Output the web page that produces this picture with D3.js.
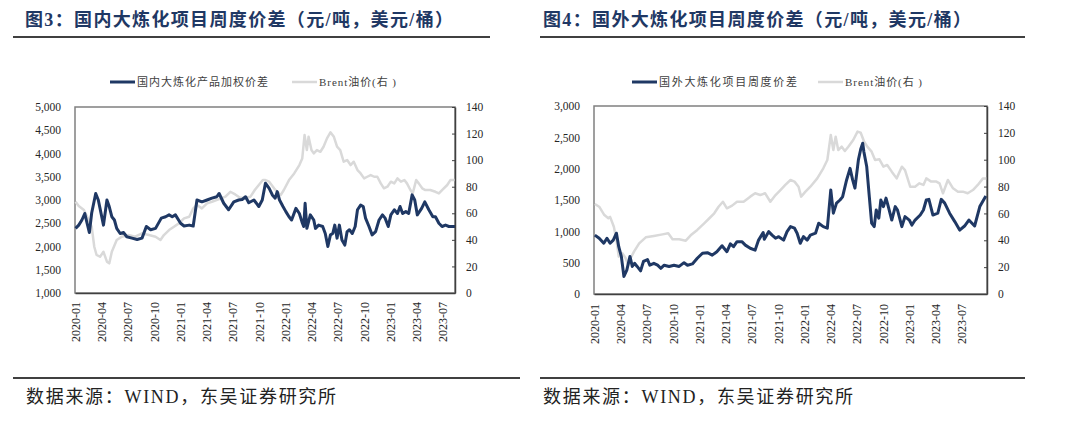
<!DOCTYPE html>
<html>
<head>
<meta charset="utf-8">
<script src="https://cdn.jsdelivr.net/npm/d3@7"></script>
<style>
  body { margin: 0; background: #fff; }
  svg { display: block; }
</style>
</head>
<body>
<svg id="chart" width="1080" height="435"></svg>
<script>
// ---- data ----
const xTickLabels = ["2020-01","2020-04","2020-07","2020-10","2021-01","2021-04","2021-07","2021-10",
  "2022-01","2022-04","2022-07","2022-10","2023-01","2023-04","2023-07"];
const brentTicks = [0, 20, 40, 60, 80, 100, 120, 140];
const domesticTicks = [1000, 1500, 2000, 2500, 3000, 3500, 4000, 4500, 5000];
const foreignTicks = [0, 500, 1000, 1500, 2000, 2500, 3000];

// fig 3: domestic weighted product spread (yuan/t)
const domSpreadDates = [
  "2020-01-03","2020-01-14","2020-01-25","2020-02-04","2020-02-12","2020-02-20","2020-02-28","2020-03-13","2020-03-22","2020-04-09",
  "2020-04-21","2020-04-29","2020-05-08","2020-05-17","2020-05-25","2020-06-06","2020-06-18","2020-06-29","2020-07-17","2020-08-04",
  "2020-08-21","2020-09-05","2020-09-20","2020-10-07","2020-10-27","2020-11-11","2020-11-23","2020-12-04","2020-12-15",
  "2021-01-02","2021-01-14","2021-02-01","2021-02-15","2021-02-28","2021-03-17","2021-04-04","2021-04-21","2021-05-08","2021-05-16",
  "2021-06-01","2021-06-18","2021-07-06","2021-07-23","2021-08-04","2021-08-16","2021-08-27","2021-09-14","2021-10-01","2021-10-13",
  "2021-10-24","2021-11-06","2021-11-17","2021-11-27","2021-12-04","2021-12-12","2021-12-24",
  "2022-01-03","2022-01-14","2022-01-23","2022-02-07","2022-02-19","2022-02-28","2022-03-06","2022-03-11","2022-03-17","2022-03-29",
  "2022-04-10","2022-04-16","2022-04-27","2022-05-11","2022-05-20","2022-05-29","2022-06-07","2022-06-15","2022-06-22","2022-06-30",
  "2022-07-08","2022-07-17","2022-07-27","2022-08-04","2022-08-12","2022-08-22","2022-09-01","2022-09-09","2022-09-20","2022-09-29",
  "2022-10-07","2022-10-19","2022-10-30","2022-11-11","2022-11-23","2022-12-05","2022-12-14","2022-12-25",
  "2023-01-03","2023-01-15","2023-01-26","2023-02-04","2023-02-13","2023-02-24","2023-03-06","2023-03-18","2023-03-27","2023-04-05",
  "2023-04-20","2023-05-01","2023-05-15","2023-05-29","2023-06-07","2023-06-19","2023-06-30","2023-07-12","2023-07-24","2023-08-14"];
const domSpreadValues = [
  2390,2460,2570,2710,2500,2300,2720,3140,3000,2460,
  3000,2860,2640,2570,2390,2280,2300,2210,2180,2150,
  2180,2430,2360,2390,2610,2640,2680,2640,2680,
  2500,2440,2460,2440,3000,2960,3000,3040,3070,3140,
  2930,2790,2960,3000,3010,3070,2940,3000,2860,3000,
  3360,3250,3110,3040,3180,3000,2860,
  2750,2640,2570,2820,2710,2530,2430,2930,2390,2680,
  2570,2390,2460,2430,2280,2000,2250,2280,2460,2180,
  2460,2140,2030,2320,2360,2280,2430,2790,2890,2860,
  2610,2430,2250,2320,2570,2680,2610,2430,
  2680,2790,2710,2860,2710,2750,2710,3110,3000,2680,
  2820,2960,2790,2640,2640,2500,2430,2460,2430,2430];

// fig 3: Brent ($/bbl, right axis)
const domBrentDates = [
  "2020-01-03","2020-01-14","2020-02-01","2020-02-18","2020-02-28","2020-03-08","2020-03-16","2020-03-28","2020-04-09","2020-04-21",
  "2020-04-29","2020-05-08","2020-05-25","2020-06-12","2020-07-05","2020-07-28","2020-08-21","2020-09-14","2020-10-07","2020-10-24",
  "2020-11-05","2020-11-23","2020-12-10","2020-12-27",
  "2021-01-14","2021-02-01","2021-02-15","2021-02-28","2021-03-17","2021-04-04","2021-04-21","2021-05-14","2021-06-07","2021-06-24",
  "2021-07-11","2021-07-28","2021-08-16","2021-09-02","2021-09-17","2021-10-01","2021-10-15","2021-10-24","2021-11-06","2021-11-23",
  "2021-12-04","2021-12-16","2021-12-27",
  "2022-01-14","2022-02-01","2022-02-19","2022-03-01","2022-03-09","2022-03-17","2022-03-23","2022-04-02","2022-04-10","2022-04-21",
  "2022-05-03","2022-05-14","2022-05-26","2022-06-07","2022-06-19","2022-06-30","2022-07-11","2022-07-23","2022-08-04","2022-08-16",
  "2022-08-27","2022-09-09","2022-09-20","2022-10-02","2022-10-13","2022-10-25","2022-11-06","2022-11-17","2022-11-29","2022-12-10",
  "2022-12-22",
  "2023-01-03","2023-01-15","2023-01-26","2023-02-07","2023-02-19","2023-02-28","2023-03-12","2023-03-20","2023-04-01","2023-04-10",
  "2023-04-22","2023-05-03","2023-05-20","2023-06-07","2023-06-19","2023-06-30","2023-07-18","2023-07-29","2023-08-14"];
const domBrentValues = [
  68.7,65.5,62.5,55,49.9,34.8,28.6,27.3,31,23.6,
  22.3,31,39.9,42.4,43.6,42.4,44.9,43.6,42.4,39.9,
  43.6,47.4,49.9,52.4,
  56.2,57.4,63.7,66.2,63.7,67.5,68.7,70.5,72.5,76.2,
  74.2,71.7,71.7,72.5,77.5,81.3,85,85,83.8,78.8,
  76.2,73.7,77.5,
  85,90,96.3,101.3,118.9,107.6,117.6,107.6,105.1,107.6,
  106.3,110.1,116.4,120.9,117.6,110.1,107.6,98.8,100.1,96.3,
  98.8,92.5,90,86.3,87.5,88.8,87.5,87.5,82.5,78.8,
  80,
  83.8,82.5,86.3,83.8,85,82.5,77.5,75,85,82.5,
  78.8,77.5,77.5,76.2,75,77.5,81.3,85,85];

// fig 4: foreign project weekly spread (yuan/t)
const forSpreadDates = [
  "2020-01-04","2020-01-19","2020-02-04","2020-02-15","2020-02-26","2020-03-08","2020-03-19","2020-03-27","2020-04-05","2020-04-14",
  "2020-04-24","2020-05-05","2020-05-13","2020-05-21","2020-05-30","2020-06-11","2020-06-21","2020-07-05","2020-07-13","2020-07-27",
  "2020-08-09","2020-08-20","2020-09-01","2020-09-18","2020-10-05","2020-10-23","2020-11-09","2020-11-21","2020-12-08","2020-12-25",
  "2021-01-12","2021-01-29","2021-02-15","2021-03-03","2021-03-21","2021-04-07","2021-04-19","2021-04-30","2021-05-12","2021-05-29",
  "2021-06-10","2021-06-27","2021-07-14","2021-07-26","2021-08-11","2021-08-15","2021-08-30","2021-09-11","2021-09-23","2021-10-04",
  "2021-10-21","2021-11-02","2021-11-14","2021-11-28","2021-12-07","2021-12-18","2021-12-29",
  "2022-01-11","2022-01-22","2022-02-09","2022-02-20","2022-03-08","2022-03-22","2022-04-03","2022-04-12","2022-04-23","2022-05-05",
  "2022-05-14","2022-05-28","2022-06-09","2022-06-18","2022-06-26","2022-07-08","2022-07-16","2022-07-23","2022-07-27","2022-08-06",
  "2022-08-15","2022-08-23","2022-09-01","2022-09-08","2022-09-17","2022-09-24","2022-10-03","2022-10-12","2022-10-20","2022-11-01",
  "2022-11-13","2022-11-21","2022-12-06","2022-12-17",
  "2023-01-01","2023-01-10","2023-01-21","2023-02-08","2023-02-19","2023-03-01","2023-03-10","2023-03-24","2023-04-10","2023-04-22",
  "2023-05-04","2023-05-21","2023-06-08","2023-06-25","2023-07-12","2023-07-27","2023-08-16","2023-09-03","2023-09-24"];
const forSpreadValues = [
  940,890,810,890,810,860,970,755,600,280,
  380,600,440,490,440,370,520,550,460,490,
  460,410,460,440,460,440,500,460,480,570,
  650,660,620,675,770,675,800,755,835,835,
  780,730,700,860,980,875,995,940,890,915,
  860,995,1075,1050,970,810,915,
  860,940,970,1130,1075,1050,1660,1290,1450,1500,
  1550,1820,2005,1820,1690,2140,2310,2405,2270,2030,
  1550,1130,1075,1340,1210,1500,1395,1530,1395,1180,
  1395,1340,1075,1235,
  1180,1100,1180,1260,1340,1500,1510,1260,1290,1510,
  1450,1290,1155,1020,1085,1180,1085,1395,1565];

// fig 4: Brent ($/bbl, right axis)
const forBrentDates = [
  "2020-01-04","2020-01-19","2020-02-06","2020-02-20","2020-02-26","2020-03-10","2020-03-19","2020-03-27","2020-04-09","2020-04-20",
  "2020-04-29","2020-05-07","2020-05-19","2020-06-06","2020-06-29","2020-07-27","2020-08-26","2020-09-15","2020-09-30","2020-10-23",
  "2020-11-15","2020-12-02","2020-12-25",
  "2021-01-18","2021-02-05","2021-02-22","2021-03-09","2021-03-24","2021-04-07","2021-04-25","2021-05-12","2021-06-04","2021-06-27",
  "2021-07-14","2021-08-01","2021-08-18","2021-09-05","2021-09-23","2021-10-10","2021-10-27","2021-11-14","2021-11-28","2021-12-12",
  "2021-12-21",
  "2022-01-05","2022-01-22","2022-02-15","2022-03-08","2022-03-22","2022-04-03","2022-04-12","2022-04-20","2022-04-29","2022-05-11",
  "2022-05-22","2022-06-03","2022-06-20","2022-07-05","2022-07-16","2022-07-27","2022-08-08","2022-08-23","2022-09-04","2022-09-19",
  "2022-10-03","2022-10-16","2022-11-01","2022-11-18","2022-12-06","2022-12-17",
  "2023-01-04","2023-01-21","2023-02-05","2023-02-19","2023-03-01","2023-03-18","2023-04-05","2023-04-16","2023-04-28","2023-05-15",
  "2023-06-02","2023-06-19","2023-07-06","2023-07-23","2023-08-10","2023-08-27","2023-09-14","2023-09-26"];
const forBrentValues = [
  67,65,58.8,56.4,57.4,50.1,40.2,27.8,30.3,26.6,
  21.6,26.6,31.5,37.7,42.2,43.2,44.4,45.2,40.7,40.7,
  39.7,43.7,47.7,
  52.6,56.4,60.1,65,68.7,63.8,65.8,68.7,68.7,72.5,
  75,73.7,75,68.7,73.7,77.4,81.2,84.9,83.7,79.9,
  72.5,
  76.2,79.9,86.1,93.6,99.8,118.4,107.2,117.1,107.2,109.7,
  106.5,109.7,114.7,120.9,120.1,113.9,109.7,106,99.8,100.3,
  94.8,96.1,91.1,86.1,94.8,92.3,
  79.9,79.9,82.4,81.2,86.1,83.7,83.7,82.4,75,84.9,
  78.7,76.2,76.2,75,77.4,81.2,86.1,86.1];

// ---- drawing ----
const navy = "#1f3864";
const grey = "#d9d9d9";
const serif = "'Liberation Serif','Times New Roman','Noto Sans CJK SC',serif";
const cjk = "'Liberation Serif','Noto Sans CJK SC',sans-serif";

const parseDay = d3.timeParse("%Y-%m-%d");
const parseMonth = d3.timeParse("%Y-%m");
const svg = d3.select("#chart");

const zip = (dates, values) => dates.map((d, i) => ({ date: parseDay(d), value: values[i] }));

function drawPanel(p) {
  const g = svg.append("g");

  // title + rules
  g.append("text")
    .attr("x", p.titleX).attr("y", 26)
    .attr("textLength", 428).attr("lengthAdjust", "spacing")
    .style("font-family", cjk).style("font-weight", "bold")
    .style("font-size", "18px").style("fill", navy)
    .text(p.title);
  g.append("line").attr("x1", p.ruleX1).attr("x2", p.ruleX2).attr("y1", 37).attr("y2", 37)
    .attr("stroke", "#404040").attr("stroke-width", 2);
  g.append("line").attr("x1", p.ruleX1).attr("x2", p.bottomRuleX2).attr("y1", 378).attr("y2", 378)
    .attr("stroke", "#404040").attr("stroke-width", 2);
  g.append("text")
    .attr("x", p.sourceX).attr("y", 403)
    .attr("textLength", 310).attr("lengthAdjust", "spacing")
    .style("font-family", cjk).style("font-size", "18px").style("fill", "#222")
    .text("数据来源：WIND，东吴证券研究所");

  // legend
  const lg = g.append("g").style("font-family", cjk).style("font-size", "11px").style("fill", "#404040");
  lg.append("line").attr("x1", p.leg1).attr("x2", p.leg1 + 25).attr("y1", 82).attr("y2", 82)
    .attr("stroke", navy).attr("stroke-width", 3);
  lg.append("text").attr("x", p.leg1 + 27).attr("y", 86)
    .attr("textLength", p.leg1Len).attr("lengthAdjust", "spacing").text(p.seriesName);
  lg.append("line").attr("x1", p.leg2).attr("x2", p.leg2 + 25).attr("y1", 82).attr("y2", 82)
    .attr("stroke", grey).attr("stroke-width", 2.5);
  lg.append("text").attr("x", p.leg2 + 27).attr("y", 86)
    .attr("textLength", 77).attr("lengthAdjust", "spacing").text("Brent油价(右 )");

  // scales
  const x = d3.scaleTime().domain(p.xDomain.map(parseDay)).range([p.left, p.right]);
  const yL = d3.scaleLinear().domain(d3.extent(p.leftTicks)).range([p.bottom, p.top]);
  const yR = d3.scaleLinear().domain(d3.extent(brentTicks)).range([p.bottom, p.top]);

  // frame
  g.append("rect").attr("x", p.left).attr("y", p.top)
    .attr("width", p.right - p.left).attr("height", p.bottom - p.top)
    .attr("fill", "none").attr("stroke", "#808080").attr("stroke-width", 1.5);

  // lines
  const line = (y) => d3.line().x(d => x(d.date)).y(d => y(d.value));
  g.append("path").datum(zip(p.brentDates, p.brentValues))
    .attr("d", line(yR)).attr("fill", "none").attr("stroke", grey)
    .attr("stroke-width", 2.5).attr("stroke-linejoin", "round");
  g.append("path").datum(zip(p.spreadDates, p.spreadValues))
    .attr("d", line(yL)).attr("fill", "none").attr("stroke", navy)
    .attr("stroke-width", 3).attr("stroke-linejoin", "round");

  // left axis
  const axL = g.append("g").attr("transform", `translate(${p.left},0)`)
    .call(d3.axisLeft(yL).tickValues(p.leftTicks).tickSize(0).tickPadding(14).tickFormat(d3.format(",")));
  axL.select(".domain").remove();

  // right axis with inner ticks
  const axR = g.append("g").attr("transform", `translate(${p.right},0)`)
    .call(d3.axisRight(yR).tickValues(brentTicks).tickSizeInner(-3).tickSizeOuter(0).tickPadding(11));
  axR.select(".domain").attr("stroke", "#404040").attr("stroke-width", 1.5);
  axR.selectAll(".tick line").attr("stroke", "#404040");

  // bottom axis, rotated labels
  const axB = g.append("g").attr("transform", `translate(0,${p.bottom})`)
    .call(d3.axisBottom(x).tickValues(xTickLabels.map(parseMonth)).tickSize(0).tickFormat(d3.timeFormat("%Y-%m")));
  axB.select(".domain").attr("stroke", "#404040").attr("stroke-width", 1.5);
  axB.selectAll("text")
    .attr("transform", "rotate(-90)")
    .attr("text-anchor", "end")
    .attr("x", -p.labelGap).attr("y", 0).attr("dy", "0.35em");

  [axL, axR, axB].forEach(a => a.selectAll("text")
    .style("font-family", serif).style("font-size", "11.5px").style("fill", "#262626"));
  axB.selectAll("text").style("font-size", "12px");
}

drawPanel({
  title: "图3：国内大炼化项目周度价差（元/吨，美元/桶）",
  titleX: 25, ruleX1: 13, ruleX2: 490, bottomRuleX2: 520, sourceX: 26,
  leg1: 110, leg1Len: 131, leg2: 292,
  seriesName: "国内大炼化产品加权价差",
  left: 75, right: 455, top: 107, bottom: 293, labelGap: 9,
  xDomain: ["2020-01-01", "2023-08-14"],
  leftTicks: domesticTicks,
  spreadDates: domSpreadDates, spreadValues: domSpreadValues,
  brentDates: domBrentDates, brentValues: domBrentValues
});

drawPanel({
  title: "图4：国外大炼化项目周度价差（元/吨，美元/桶）",
  titleX: 543, ruleX1: 540, ruleX2: 1025, bottomRuleX2: 1025, sourceX: 543,
  leg1: 632, leg1Len: 138, leg2: 818,
  seriesName: "国外大炼化项目周度价差",
  left: 594, right: 987, top: 106, bottom: 294, labelGap: 10,
  xDomain: ["2020-01-01", "2023-09-28"],
  leftTicks: foreignTicks,
  spreadDates: forSpreadDates, spreadValues: forSpreadValues,
  brentDates: forBrentDates, brentValues: forBrentValues
});
</script>
</body>
</html>
